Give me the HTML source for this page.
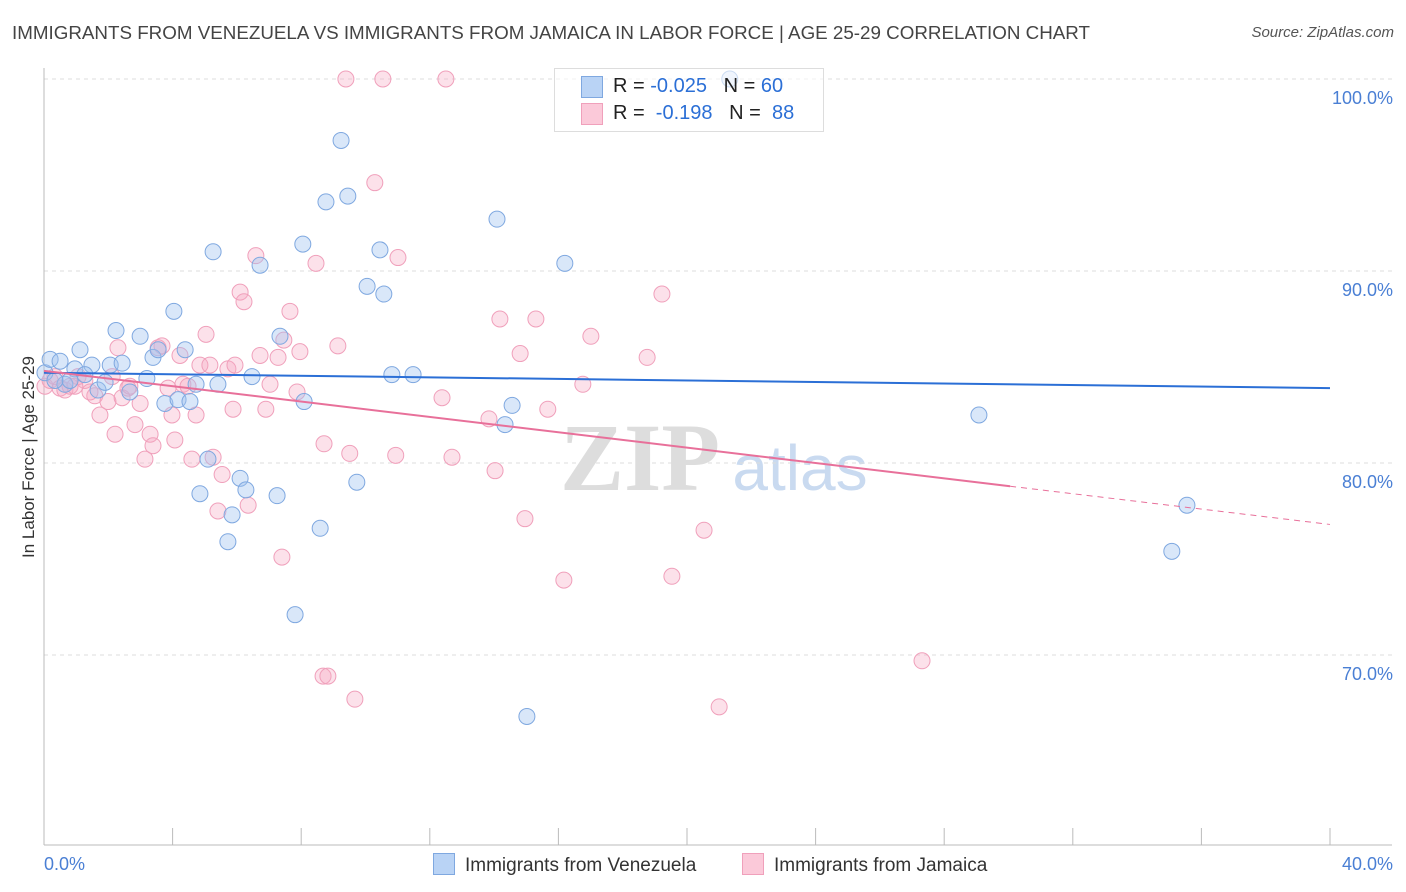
<!DOCTYPE html>
<html><head><meta charset="utf-8"><style>
body{margin:0;background:#fff;font-family:"Liberation Sans",sans-serif;}
#wrap{position:relative;width:1406px;height:892px;overflow:hidden;}
.t{position:absolute;white-space:nowrap;}
</style></head><body>
<div id="wrap">
<div class="t" style="left:12px;top:22px;font-size:18.8px;color:#444;">IMMIGRANTS FROM VENEZUELA VS IMMIGRANTS FROM JAMAICA IN LABOR FORCE | AGE 25-29 CORRELATION CHART</div>
<div class="t" style="right:12px;top:24px;font-size:15px;color:#555;font-style:italic;">Source: ZipAtlas.com</div>
<svg id="svg" width="1406" height="892" style="position:absolute;left:0;top:0"></svg>
</div>
<script>
const xTicks=[0,4,8,12,16,20,24,28,32,36,40];
const yTicks=[70,80,90,100];
const yTickLabels=["70.0%","80.0%","90.0%","100.0%"];
const venX=[0.03,0.19,0.5,0.96,1.12,1.49,1.68,1.9,2.06,2.24,2.43,2.99,3.2,3.39,3.55,3.76,4.04,4.17,4.39,4.54,4.73,4.85,5.1,5.26,5.41,5.72,5.85,6.1,6.28,6.47,6.72,7.25,7.34,7.81,8.05,8.09,8.59,8.77,9.24,9.45,9.73,10.05,10.45,10.57,10.82,11.48,14.09,14.34,14.56,15.02,16.2,21.33,29.08,35.08,35.55,0.65,1.27,2.67,0.81,0.34];
const venY=[84.7,85.4,85.3,84.9,85.9,85.1,83.8,84.2,85.1,86.9,85.2,86.6,84.4,85.5,85.9,83.1,87.9,83.3,85.9,83.2,84.1,78.4,80.2,91.0,84.1,75.9,77.3,79.2,78.6,84.5,90.3,78.3,86.6,72.1,91.4,83.2,76.6,93.6,96.8,93.9,79.0,89.2,91.1,88.8,84.6,84.6,92.7,82.0,83.0,66.8,90.4,100.0,82.5,75.4,77.8,84.1,84.6,83.7,84.3,84.3];
const jamX=[0.03,0.19,0.34,0.5,0.65,0.81,1.06,1.27,1.58,1.74,1.99,2.21,2.3,2.43,2.61,2.83,2.99,3.14,3.3,3.39,3.55,3.67,3.86,3.98,4.07,4.23,4.32,4.48,4.6,4.73,4.85,5.04,5.16,5.26,5.41,5.54,5.72,5.88,5.94,6.1,6.22,6.35,6.59,6.72,6.9,7.03,7.28,7.4,7.46,7.65,7.87,7.96,8.46,8.68,8.83,8.71,9.14,9.39,9.51,9.67,10.29,10.54,10.94,11.01,12.5,12.38,12.69,13.84,14.03,14.18,14.96,14.81,15.3,15.67,16.17,16.76,17.01,18.76,19.22,19.53,20.53,21.0,27.31,1.43,0.96,2.12,2.67];
const jamY=[84.0,84.3,84.5,83.9,83.8,84.0,84.5,84.3,83.5,82.5,83.2,81.5,86.0,83.4,83.9,82.0,83.1,80.2,81.5,80.9,86.0,86.1,83.9,82.5,81.2,85.6,84.1,84.0,80.2,82.5,85.1,86.7,85.1,80.3,77.5,79.4,84.9,82.8,85.1,88.9,88.4,77.8,90.8,85.6,82.8,84.1,85.5,75.1,86.4,87.9,83.7,85.8,90.4,68.9,68.9,81.0,86.1,100.0,80.5,67.7,94.6,100.0,80.4,90.7,100.0,83.4,80.3,82.3,79.6,87.5,77.1,85.7,87.5,82.8,73.9,84.1,86.6,85.5,88.8,74.1,76.5,67.3,69.7,83.7,84.0,84.5,84.0];
const venLine=[84.7,83.9]; const jamLine=[84.8,76.8]; const jamSolidEnd=30.05;
const X=v=>44+v/40*1286, Y=v=>79+(100-v)*19.2;
const s=document.getElementById('svg'),NS='http://www.w3.org/2000/svg';
function el(t,a,p){const e=document.createElementNS(NS,t);for(const k in a)e.setAttribute(k,a[k]);(p||s).appendChild(e);return e;}
let w=el('text',{x:640,y:490,'font-size':96,'font-family':'Liberation Serif',fill:'#ddd','text-anchor':'middle','font-weight':'bold'});w.textContent='ZIP';

let w2=el('text',{x:800,y:490,'font-size':64,'font-family':'Liberation Sans',fill:'#c9daf0','text-anchor':'middle'});w2.textContent='atlas';

yTicks.forEach((v,i)=>{const g=el('line',{x1:44,x2:1392,y1:Y(v),y2:Y(v),stroke:'#ddd','stroke-dasharray':'4,4'});});
yTicks.forEach((v,i)=>{const t=el('text',{x:1393,y:Y(v)+25,'font-size':18,fill:'#4a7fd4','text-anchor':'end'});t.textContent=yTickLabels[i];});
const ax=el('line',{x1:44,x2:44,y1:68,y2:845,stroke:'#bbb'});
const bx=el('line',{x1:44,x2:1392,y1:845,y2:845,stroke:'#bbb'});
xTicks.forEach(v=>{const t=el('line',{x1:X(v),x2:X(v),y1:828,y2:845,stroke:'#bbb'});});
[[0,'0.0%',44,'start'],[40,'40.0%',1393,'end']].forEach(a=>{const t=el('text',{x:a[2],y:870,'font-size':18,fill:'#4a7fd4','text-anchor':a[3]});t.textContent=a[1];});
const yt=el('text',{x:34,y:457,'font-size':17,fill:'#333','text-anchor':'middle',transform:'rotate(-90 34 457)'});yt.textContent='In Labor Force | Age 25-29';
jamX.forEach((x,i)=>{const c=el('circle',{cx:X(x),cy:Y(jamY[i]),r:8,fill:'rgba(247,170,195,0.35)',stroke:'#f0a0bb','stroke-width':1});});
venX.forEach((x,i)=>{const c=el('circle',{cx:X(x),cy:Y(venY[i]),r:8,fill:'rgba(160,195,240,0.4)',stroke:'#7fa8e0','stroke-width':1});});
const vl=el('line',{x1:X(0),y1:Y(venLine[0]),x2:X(40),y2:Y(venLine[1]),stroke:'#2b6fd6','stroke-width':2});
const jy=v=>jamLine[0]+(jamLine[1]-jamLine[0])*v/40;
const jl=el('line',{x1:X(0),y1:Y(jy(0)),x2:X(jamSolidEnd),y2:Y(jy(jamSolidEnd)),stroke:'#e8709a','stroke-width':2});
const jd=el('line',{x1:X(jamSolidEnd),y1:Y(jy(jamSolidEnd)),x2:X(40),y2:Y(jy(40)),stroke:'#e8709a','stroke-width':1,'stroke-dasharray':'6,5'});
</script>
<div style="position:absolute;left:554px;top:68px;width:268px;height:62px;border:1px solid #ddd;background:rgba(255,255,255,0.6);font-size:20px;">
 <div style="position:absolute;left:26px;top:7px;width:20px;height:20px;background:#b9d3f5;border:1px solid #7fa8e0"></div>
 <div class="t" style="left:58px;top:6px;color:#222">R = <span style="color:#2b6fd6">-0.025</span>&nbsp;&nbsp;&nbsp;N = <span style="color:#2b6fd6">60</span></div>
 <div style="position:absolute;left:26px;top:34px;width:20px;height:20px;background:#fbc9d9;border:1px solid #f0a0bb"></div>
 <div class="t" style="left:58px;top:33px;color:#222">R = &nbsp;<span style="color:#2b6fd6">-0.198</span>&nbsp;&nbsp;&nbsp;N = &nbsp;<span style="color:#2b6fd6">88</span></div>
</div>
<div style="position:absolute;left:433px;top:853px;font-size:19px;color:#333;">
 <span style="position:absolute;left:0;top:0;white-space:nowrap"><span style="display:inline-block;width:20px;height:20px;background:#b9d3f5;border:1px solid #7fa8e0;vertical-align:-4px;margin-right:10px"></span>Immigrants from Venezuela</span>
 <span style="position:absolute;left:309px;top:0;white-space:nowrap"><span style="display:inline-block;width:20px;height:20px;background:#fbc9d9;border:1px solid #f0a0bb;vertical-align:-4px;margin-right:10px"></span>Immigrants from Jamaica</span>
</div>
</body></html>
